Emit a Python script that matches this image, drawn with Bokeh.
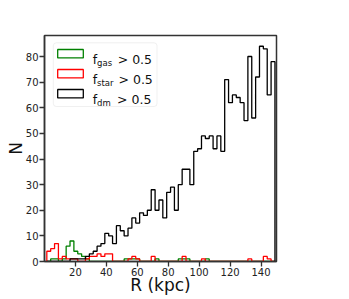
import numpy as np
from bokeh.plotting import figure
from bokeh.models import FixedTicker, BoxAnnotation, Range1d
from bokeh.core.properties import value
from bokeh.embed import file_html
from bokeh.resources import INLINE

# ---- data ----
bin_start = 1.5
bin_width = 2.5
n_gas = [0, 1, 1, 0, 1, 6, 8, 4, 3, 2,
         1, 0, 0, 0, 0, 0, 0, 0, 0, 0,
         1, 1, 1, 1, 0, 0, 0, 0, 1, 0,
         0, 0, 0, 0, 1, 1, 1, 0, 0, 0,
         0, 1, 0, 0, 0, 0, 0, 0, 0, 0,
         0, 0, 0, 0, 0, 0, 0, 0, 0]
n_star = [4, 5, 7, 1, 2, 1, 1, 1, 0, 0,
          1, 2, 2, 3, 2, 3, 3, 0, 0, 0,
          0, 1, 2, 1, 0, 0, 0, 2, 0, 0,
          0, 0, 0, 0, 0, 2, 0, 0, 0, 0,
          1, 0, 0, 0, 0, 0, 0, 0, 0, 0,
          0, 0, 1, 0, 0, 0, 2, 1, 0]
n_dm = [0, 0, 0, 0, 0, 0, 1, 1, 1, 1,
        2, 3, 4, 6, 7, 11, 10, 7, 14, 12,
        10, 13, 17, 15, 19, 18, 20, 28, 20, 24,
        17, 27, 29, 20, 30, 36, 36, 30, 43, 44,
        49, 48, 49, 44, 49, 43, 71, 62, 65, 64,
        62, 55, 80, 56, 72, 84, 83, 65, 78]
series_names = ["gas", "star", "dm"]
series_colors = ["green", "red", "black"]
x_ticks = [20, 40, 60, 80, 100, 120, 140]
y_ticks = [0, 10, 20, 30, 40, 50, 60, 70, 80]
x_lim = (0, 150)
y_lim = (0, 88.2)

# ---- layout ----
W, H = 320, 299
MB_L, MB_R, MB_T, MB_B = 44, 44, 35, 38
FW = W - MB_L - MB_R
FH = H - MB_T - MB_B

p = figure(width=W, height=H, output_backend="svg", toolbar_location=None,
           x_range=Range1d(*x_lim), y_range=Range1d(*y_lim),
           min_border_left=MB_L, min_border_right=MB_R,
           min_border_top=MB_T, min_border_bottom=MB_B)
p.xgrid.visible = False
p.ygrid.visible = False
p.outline_line_color = "#333333"
p.outline_line_width = 1.5
p.background_fill_color = "white"
p.border_fill_color = "white"

edges = bin_start + bin_width * np.arange(len(n_dm) + 1)
for counts, col in zip([n_gas, n_star, n_dm], series_colors):
    xs = np.repeat(edges, 2)
    ys = np.concatenate([[0], np.repeat(np.asarray(counts, float), 2), [0]])
    p.line(xs, ys, line_color=col, line_width=1.3)

for ax in (p.xaxis[0], p.yaxis[0]):
    ax.axis_line_color = "#333333"
    ax.axis_line_width = 1.5
    ax.major_tick_line_color = "#333333"
    ax.major_tick_line_width = 1.3
    ax.major_tick_in = 0
    ax.major_tick_out = 5
    ax.minor_tick_line_color = None
    ax.major_label_text_font = "DejaVu Sans"
    ax.major_label_text_font_size = "10px"
    ax.major_label_text_color = "#222222"
    ax.axis_label_text_font = "DejaVu Sans"
    ax.axis_label_text_font_size = "17px"
    ax.axis_label_text_font_style = "normal"
    ax.axis_label_text_color = "#111111"

p.xaxis.ticker = FixedTicker(ticks=x_ticks)
p.yaxis.ticker = FixedTicker(ticks=y_ticks)
p.xaxis.axis_label = "R (kpc)"
p.yaxis.axis_label = "N"
p.xaxis.major_label_standoff = 1
p.xaxis.axis_label_standoff = -4
p.yaxis.major_label_standoff = 1
p.yaxis.axis_label_standoff = -3

# ---- legend (drawn by hand so the subscripts are real subscripts) ----
def fx(px):
    return x_lim[0] + px * (x_lim[1] - x_lim[0]) / FW

def fy(py):
    return y_lim[1] - py * (y_lim[1] - y_lim[0]) / FH

p.add_layout(BoxAnnotation(left=fx(8.8), right=fx(112.5), top=fy(7.3), bottom=fy(71),
                           fill_color="white", fill_alpha=0.85, level="underlay",
                           line_color="#cccccc", line_width=1, border_radius=3))
row_gap = 20.0
for i, (name, col) in enumerate(zip(series_names, series_colors)):
    cy = 18.2 + row_gap * i
    base = 24.2 + row_gap * i
    p.quad(left=fx(13.2), right=fx(38.8), top=fy(cy - 4.2), bottom=fy(cy + 4.2),
           fill_color=None, line_color=col, line_width=1.3)
    p.text(x=[fx(48.2)], y=[fy(base)], text=["f"], text_font=value("DejaVu Sans"),
           text_font_size=value("12.5px"), text_color="#111111", text_baseline="alphabetic")
    p.text(x=[fx(52.6)], y=[fy(base + 2.8)], text=[name], text_font=value("DejaVu Sans"),
           text_font_size=value("8.5px"), text_color="#111111", text_baseline="alphabetic")
    sub_w = {"gas": 73.2, "star": 74.0, "dm": 72.6}[name]
    p.text(x=[fx(sub_w)], y=[fy(base)], text=["> 0.5"], text_font=value("DejaVu Sans"),
           text_font_size=value("12.5px"), text_color="#111111", text_baseline="alphabetic")

open("out.html", "w").write(file_html(p, INLINE))
